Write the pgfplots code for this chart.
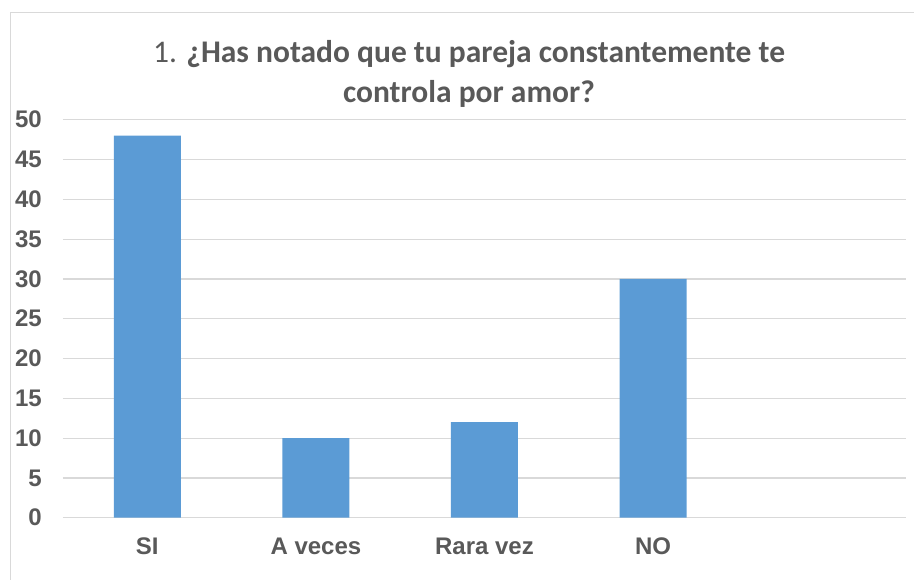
\documentclass[border=0pt]{standalone}
\usepackage{fontspec}
\setmainfont{Liberation Sans}
\newfontfamily\calibri{Carlito}
\usepackage{pgfplots}
\pgfplotsset{compat=1.18}
\definecolor{barblue}{HTML}{5B9BD5}
\definecolor{txt}{HTML}{595959}
\definecolor{gridc}{HTML}{D9D9D9}
\begin{document}
\begin{tikzpicture}[x=1pt,y=1pt]
\useasboundingbox (0,0) rectangle (914,579);
\draw[gridc, line width=1.5pt] (10.5,-10) -- (10.5,566.5) -- (930,566.5);
\begin{axis}[
  at={(63pt,61.3pt)}, anchor=south west, scale only axis,
  width=843pt, height=398pt,
  xmin=-0.5, xmax=4.5, ymin=0, ymax=50,
  ytick={0,5,...,50}, xtick={0,1,2,3},
  xticklabels={SI,A veces,Rara vez,NO},
  ymajorgrids, grid style={gridc, line width=1.2pt},
  axis line style={draw=none},
  major tick length=0,
  /pgf/number format/assume math mode=true,
  yticklabel style={font=\fontsize{24}{24}\selectfont\bfseries, text=txt, anchor=east, inner sep=0pt, xshift=-21pt},
  xticklabel style={font=\fontsize{24}{24}\selectfont\bfseries, text=txt, anchor=north, inner sep=0pt, yshift=-20pt},
  ybar, bar width=67pt,
]
\addplot[fill=barblue, draw=none] coordinates {(0,48) (1,10) (2,12) (3,30)};
\end{axis}
\node[anchor=base, text=txt, font=\calibri\fontsize{31.5}{31.5}\selectfont] at (469,516) {1. \textbf{¿Has notado que tu pareja constantemente te}};
\node[anchor=base, text=txt, font=\calibri\fontsize{31.5}{31.5}\selectfont\bfseries] at (469,476) {controla por amor?};
\end{tikzpicture}
\end{document}
